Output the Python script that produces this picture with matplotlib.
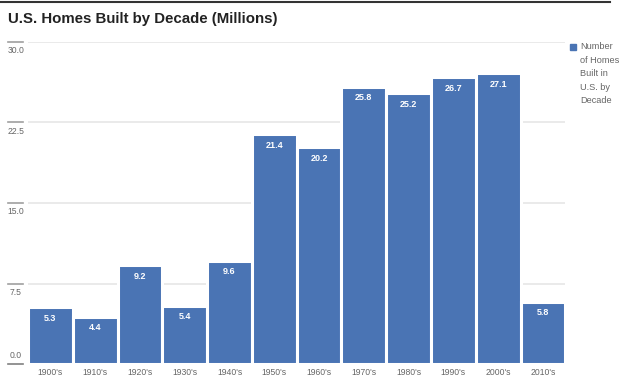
import matplotlib.pyplot as plt
from matplotlib import font_manager
from matplotlib.lines import Line2D
import matplotlib.transforms as mtransforms

# ------------------------------ Data -------------------------------------- #
decades = ["1900's", "1910's", "1920's", "1930's", "1940's", "1950's",
           "1960's", "1970's", "1980's", "1990's", "2000's", "2010's"]
homes_millions = [5.3, 4.4, 9.2, 5.4, 9.6, 21.4, 20.2, 25.8, 25.2, 26.7, 27.1, 5.8]
y_ticks = [0.0, 7.5, 15.0, 22.5, 30.0]
title = "U.S. Homes Built by Decade (Millions)"
legend_label = "Number\nof Homes\nBuilt in\nU.S. by\nDecade"
# -------------------------------------------------------------------------- #

installed = {f.name for f in font_manager.fontManager.ttflist}
narrow = "Liberation Sans Narrow" if "Liberation Sans Narrow" in installed else "Liberation Sans"
plt.rcParams['font.family'] = [narrow, 'DejaVu Sans']

bar_color = "#4a74b4"
grey_text = "#666666"

fig = plt.figure(figsize=(6.24, 3.78), dpi=100)
ax = fig.add_axes([0.045, 0.037, 0.861, 0.852])

x = range(len(decades))
bars = ax.bar(x, homes_millions, width=1.0, color=bar_color,
              edgecolor="white", linewidth=2.2, zorder=3)

for xi, v in zip(x, homes_millions):
    ax.text(xi, v - 0.6, f"{v:.1f}", ha="center", va="top", color="white",
            fontsize=6.5, fontweight="bold", zorder=4)

ax.set_xlim(-0.5, len(decades) - 0.5)
ax.set_ylim(0, 30)
ax.set_xticks(list(x))
ax.set_xticklabels(decades, fontsize=6.2, color=grey_text)
ax.tick_params(axis="x", length=0, pad=3)
ax.set_yticks([])
for s in ax.spines.values():
    s.set_visible(False)

# light gridlines + left tick markers with labels
trans = mtransforms.blended_transform_factory(ax.transAxes, ax.transData)
for t in y_ticks:
    ax.axhline(t, color="#e6e6e6", linewidth=1.2, zorder=1)
    ax.add_line(Line2D([-0.037, -0.009], [t, t], transform=trans,
                       color="#a0a0a0" if t > 0 else "#808080",
                       linewidth=1.2, clip_on=False))
    if t > 0:
        ax.text(-0.023, t - 0.4, f"{t:.1f}", transform=trans, ha="center",
                va="top", fontsize=6.2, color=grey_text)
    else:
        ax.text(-0.023, t + 0.35, f"{t:.1f}", transform=trans, ha="center",
                va="bottom", fontsize=6.2, color=grey_text)

# legend
fig.patches.append(plt.Rectangle((570 / 624, 1 - 50 / 378), 6 / 624, 6 / 378,
                                 transform=fig.transFigure, color=bar_color))
fig.text(580 / 624, 1 - 42 / 378, legend_label, ha="left", va="top",
         fontsize=6.6, color=grey_text, linespacing=1.65)

# title and top rule
fig.add_artist(Line2D([0, 610 / 624], [1 - 2 / 378, 1 - 2 / 378],
                      transform=fig.transFigure, color="#333333", linewidth=1.5))
fig.text(8 / 624, 1 - 19 / 378, title, ha="left", va="center",
         fontsize=10.8, fontweight="bold", color="#222222")

fig.savefig("out.png", dpi=100)
